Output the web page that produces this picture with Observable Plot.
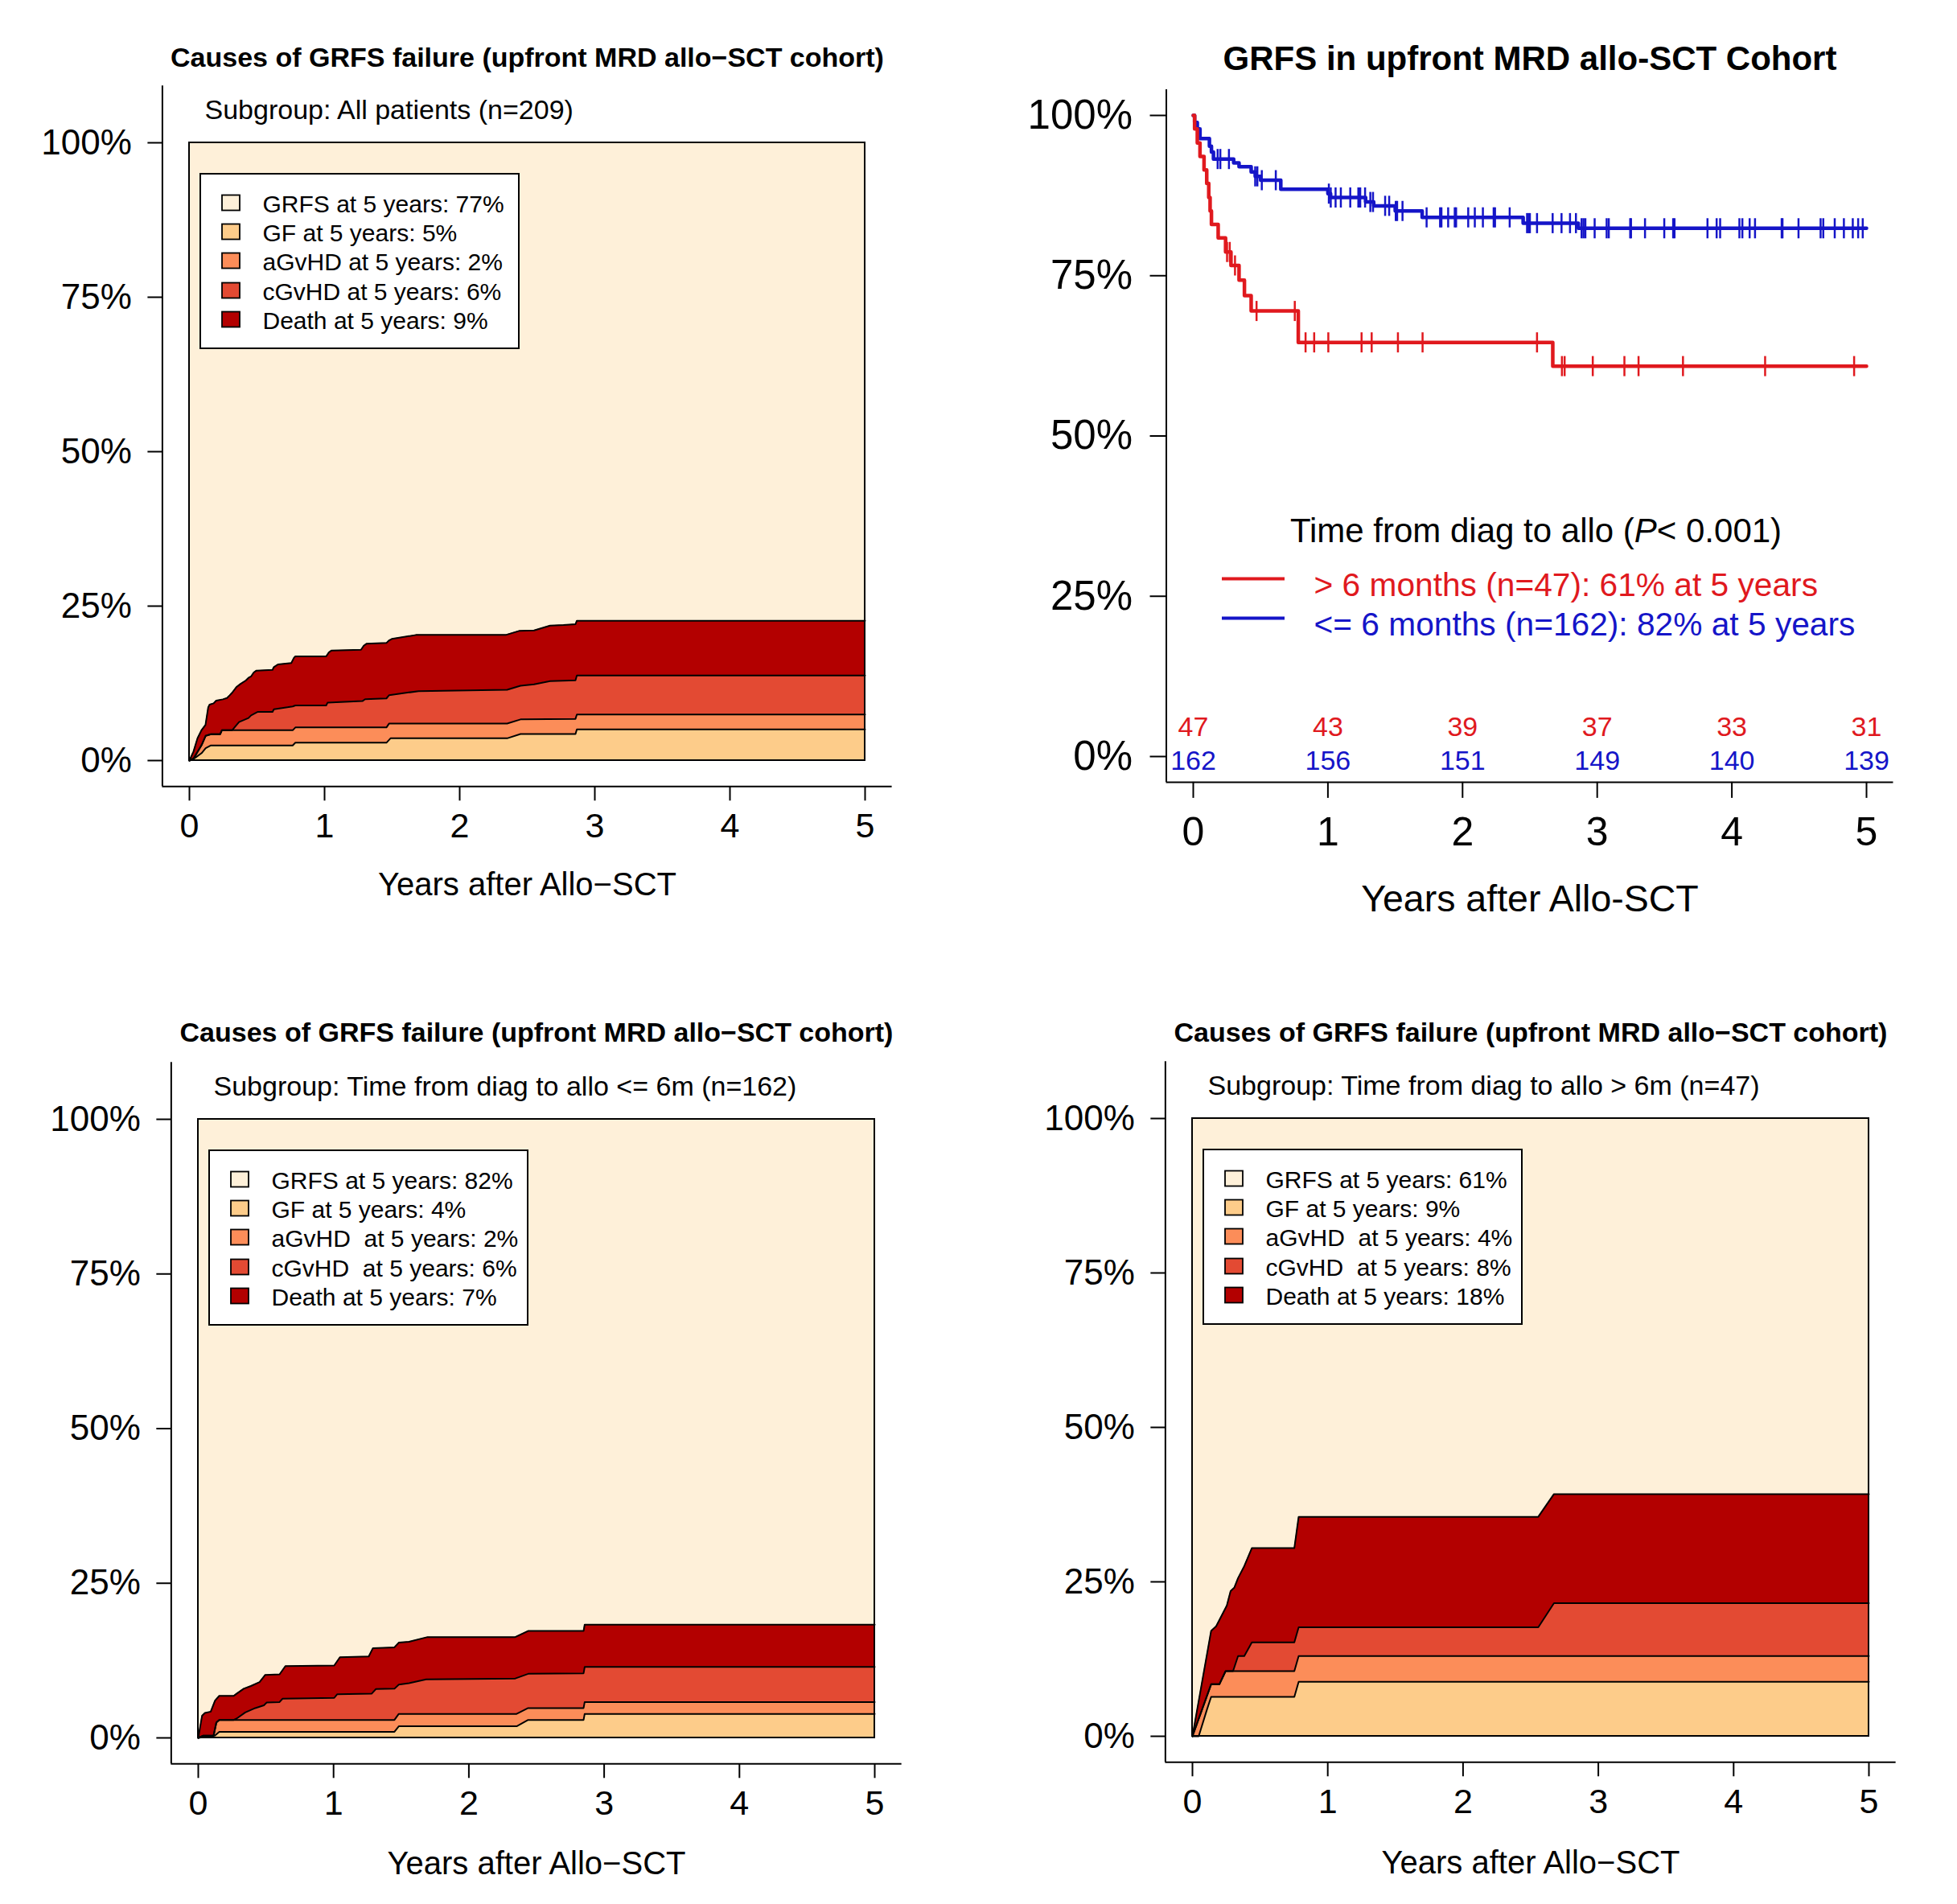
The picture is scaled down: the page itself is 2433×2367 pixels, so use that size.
<!DOCTYPE html>
<html>
<head>
<meta charset="utf-8">
<script src="https://cdn.jsdelivr.net/npm/d3@7"></script>
<script src="https://cdn.jsdelivr.net/npm/@observablehq/plot@0.6"></script>
<style>
  html, body { margin: 0; padding: 0; background: #fff; }
  #fig { position: relative; width: 2433px; height: 2367px; background: #fff; overflow: hidden; }
  #fig > svg { position: absolute; }
</style>
</head>
<body>
<div id="fig"></div>
<script>
// ---------------- DATA ----------------
const yearsMax = 5;
const xTicks = [0, 1, 2, 3, 4, 5];
const yTicks = [0, 0.25, 0.5, 0.75, 1];
const causeColors = ["#FEF0D9", "#FDCC8A", "#FC8D59", "#E34A33", "#B30000"];

// Top-left: all patients, cumulative boundaries [years, cumulative proportion]
const tlGF = [[0,0],[0.04,0.004],[0.09,0.012],[0.12,0.02],[0.159,0.0245],[0.764,0.0245],[0.784,0.0289],[1.458,0.0289],[1.488,0.036],[2.351,0.036],[2.45,0.043],[2.857,0.043],[2.867,0.0505],[5,0.0505]];
const tlAG = [[0,0],[0.03,0.003],[0.09,0.025],[0.12,0.04],[0.159,0.0427],[0.228,0.0427],[0.24,0.049],[0.764,0.049],[0.784,0.0536],[1.458,0.0536],[1.478,0.06],[2.351,0.06],[2.45,0.0666],[2.857,0.0675],[2.867,0.0745],[5,0.0745]];
const tlCG = [[0,0],[0.03,0.003],[0.09,0.025],[0.12,0.04],[0.159,0.0427],[0.228,0.0427],[0.24,0.049],[0.317,0.0492],[0.367,0.0623],[0.437,0.0688],[0.456,0.0731],[0.506,0.0788],[0.615,0.0788],[0.625,0.0831],[0.764,0.0875],[0.784,0.0892],[1.012,0.0892],[1.022,0.0936],[1.28,0.0962],[1.3,0.0993],[1.458,0.1006],[1.478,0.1059],[1.696,0.1124],[2.351,0.1146],[2.45,0.1211],[2.55,0.1233],[2.669,0.1285],[2.857,0.1298],[2.867,0.1376],[5,0.1376]];
const tlDeath = [[0,0],[0.03,0.0145],[0.06,0.0362],[0.089,0.049],[0.119,0.0577],[0.139,0.0861],[0.149,0.0904],[0.179,0.0926],[0.198,0.097],[0.248,0.0991],[0.278,0.1013],[0.298,0.1056],[0.317,0.11],[0.347,0.1187],[0.377,0.1239],[0.417,0.1296],[0.437,0.1339],[0.456,0.1361],[0.476,0.1426],[0.496,0.1456],[0.615,0.1469],[0.625,0.1513],[0.655,0.1556],[0.754,0.1578],[0.774,0.1665],[0.784,0.1686],[1.012,0.1686],[1.032,0.1751],[1.052,0.1782],[1.27,0.1794],[1.29,0.1859],[1.31,0.189],[1.458,0.1903],[1.478,0.1946],[1.498,0.1968],[1.677,0.2033],[2.341,0.2033],[2.44,0.2098],[2.55,0.2107],[2.669,0.2185],[2.768,0.2194],[2.857,0.2207],[2.867,0.2264],[5,0.2264]];
const tlLabels = ["GRFS at 5 years: 77%", "GF at 5 years: 5%", "aGvHD at 5 years: 2%", "cGvHD at 5 years: 6%", "Death at 5 years: 9%"];

// Bottom-left: <= 6 months
const blGF = [[0,0],[0.028,0.001],[0.124,0.004],[0.155,0.0098],[1.45,0.0098],[1.482,0.0188],[2.353,0.0188],[2.438,0.029],[2.848,0.029],[2.856,0.0388],[5,0.0388]];
const blAG = [[0,0],[0.037,0.0036],[0.113,0.0036],[0.134,0.025],[0.155,0.029],[1.45,0.029],[1.482,0.0388],[2.353,0.0388],[2.438,0.0482],[2.848,0.0482],[2.856,0.058],[5,0.058]];
const blCG = [[0,0],[0.037,0.0036],[0.113,0.0036],[0.134,0.025],[0.155,0.029],[0.262,0.029],[0.283,0.0312],[0.347,0.0411],[0.421,0.0482],[0.485,0.0527],[0.506,0.0571],[0.601,0.058],[0.623,0.0634],[1.005,0.0647],[1.026,0.0705],[1.281,0.0714],[1.313,0.079],[1.45,0.0795],[1.482,0.0862],[1.557,0.0884],[1.684,0.0946],[2.343,0.096],[2.438,0.1036],[2.848,0.1045],[2.856,0.1147],[5,0.1147]];
const blDeath = [[0,0],[0.028,0.0357],[0.049,0.0402],[0.092,0.0424],[0.124,0.0603],[0.155,0.0679],[0.262,0.0679],[0.283,0.0714],[0.336,0.0795],[0.389,0.0839],[0.453,0.0902],[0.495,0.1018],[0.601,0.1027],[0.644,0.1161],[1.005,0.117],[1.047,0.1304],[1.26,0.1317],[1.291,0.1451],[1.45,0.1464],[1.482,0.154],[1.557,0.1554],[1.695,0.163],[2.343,0.163],[2.438,0.1728],[2.848,0.1728],[2.856,0.183],[5,0.183]];
const blLabels = ["GRFS at 5 years: 82%", "GF at 5 years: 4%", "aGvHD\u00a0 at 5 years: 2%", "cGvHD\u00a0 at 5 years: 6%", "Death at 5 years: 7%"];

// Bottom-right: > 6 months
const brGF = [[0,0],[0.046,0],[0.106,0.0425],[0.138,0.0638],[0.753,0.0638],[0.785,0.0881],[5,0.0881]];
const brAG = [[0,0],[0.138,0.0842],[0.199,0.0842],[0.245,0.1055],[0.753,0.1055],[0.785,0.1299],[5,0.1299]];
const brCG = [[0,0],[0.138,0.0842],[0.199,0.0842],[0.245,0.1055],[0.3,0.1055],[0.337,0.1299],[0.383,0.1299],[0.439,0.152],[0.753,0.152],[0.785,0.1765],[2.556,0.1765],[2.672,0.2154],[5,0.2154]];
const brDeath = [[0,0],[0.138,0.1706],[0.175,0.178],[0.222,0.198],[0.254,0.2115],[0.282,0.235],[0.309,0.2405],[0.337,0.256],[0.383,0.2755],[0.439,0.3046],[0.753,0.3046],[0.785,0.3553],[2.556,0.3553],[2.672,0.392],[5,0.392]];
const brLabels = ["GRFS at 5 years: 61%", "GF at 5 years: 9%", "aGvHD\u00a0 at 5 years: 4%", "cGvHD\u00a0 at 5 years: 8%", "Death at 5 years: 18%"];

// Top-right: Kaplan-Meier GRFS
const redTimes = [0, 0.01, 0.03, 0.05, 0.08, 0.10, 0.115, 0.125, 0.135, 0.185, 0.24, 0.28, 0.34, 0.38, 0.43, 0.78, 2.67];
const redSurv  = [1, 0.979, 0.957, 0.936, 0.915, 0.894, 0.872, 0.851, 0.830, 0.809, 0.787, 0.766, 0.743, 0.719, 0.695, 0.646, 0.609];
const blueTimes = [0, 0.01, 0.03, 0.05, 0.12, 0.135, 0.15, 0.30, 0.34, 0.43, 0.46, 0.50, 0.65, 1.00, 1.02, 1.28, 1.34, 1.50, 1.70, 2.45, 2.86];
const blueSurv  = [1, 0.989, 0.979, 0.964, 0.952, 0.943, 0.932, 0.926, 0.920, 0.912, 0.905, 0.899, 0.885, 0.878, 0.872, 0.865, 0.859, 0.851, 0.841, 0.832, 0.824];
const redCensor = [0.251, 0.271, 0.310, 0.470, 0.754, 0.834, 0.898, 1.003, 1.250, 1.325, 1.520, 1.703, 2.553, 2.738, 2.758, 2.967, 3.202, 3.307, 3.637, 4.247, 4.908];
const blueCensor = [0.181, 0.201, 0.265, 0.460, 0.476, 0.509, 0.613, 1.007, 1.021, 1.057, 1.096, 1.166, 1.226, 1.240, 1.276, 1.315, 1.335, 1.425, 1.455, 1.504, 1.514, 1.554, 1.733, 1.833, 1.843, 1.893, 1.942, 1.952, 2.042, 2.091, 2.151, 2.231, 2.241, 2.350, 2.479, 2.490, 2.500, 2.553, 2.669, 2.735, 2.798, 2.842, 2.884, 2.898, 2.912, 2.981, 3.070, 3.086, 3.245, 3.251, 3.355, 3.498, 3.564, 3.574, 3.819, 3.887, 3.913, 4.056, 4.078, 4.132, 4.172, 4.370, 4.376, 4.495, 4.659, 4.679, 4.764, 4.832, 4.898, 4.938, 4.972];
const riskTimes = [0, 1, 2, 3, 4, 5];
const riskRed = [47, 43, 39, 37, 33, 31];
const riskBlue = [162, 156, 151, 149, 140, 139];
const kmGroups = ["> 6 months (n=47): 61% at 5 years", "<= 6 months (n=162): 82% at 5 years"];
const kmLegendTitle = ["Time from diag to allo (", "P", "< 0.001)"];

// ---------------- RENDER ----------------
const FONT = "'Liberation Sans', Arial, Helvetica, sans-serif";
const RED = "#E0191E", BLUE = "#1515C8";
const fig = document.getElementById("fig");
const xDom = [-0.2, 5.2];

function margins(g, yDom) {
  return {
    marginLeft: g.x0 + xDom[0] * g.k,
    marginRight: g.W - (g.x0 + xDom[1] * g.k),
    marginTop: g.y0 - yDom[1] * g.s,
    marginBottom: g.H - (g.y0 - yDom[0] * g.s)
  };
}
function place(svg, g) {
  svg.style.left = g.qx + "px";
  svg.style.top = g.qy + "px";
  fig.appendChild(svg);
}
const pct = d => `${Math.round(d * 100)}%`;

function stackPanel(g, series, labels, subtitle) {
  const yDom = [-0.042, 1.092];
  const dx = px => px / g.k, dy = px => px / g.s;
  const box = [{x1: dx(14), x2: dx(410), y1: 1 - dy(256), y2: 1 - dy(39)}];
  const rowOff = [75, 111, 147, 184, 220];
  const rows = labels.map((label, i) => ({
    label, color: causeColors[i],
    sx1: dx(41), sx2: dx(63), sy1: 1 - dy(rowOff[i] + 9.5), sy2: 1 - dy(rowOff[i] - 9.5),
    tx: dx(91), ty: 1 - dy(rowOff[i] + 1.5)
  }));
  const region = [{a: 0, b: yearsMax, c: 0, d: 1}];
  const marks = [
    Plot.rect(region, {x1: "a", x2: "b", y1: "c", y2: "d", fill: causeColors[0]}),
  ];
  for (let i = series.length - 1; i >= 0; i--) {
    marks.push(Plot.areaY(series[i], {x: d => d[0], y1: d => 0, y2: d => d[1], fill: causeColors[i + 1], curve: "linear"}));
  }
  for (let i = 0; i < series.length; i++) {
    marks.push(Plot.line(series[i], {x: d => d[0], y: d => d[1], stroke: "#000", strokeWidth: 2, curve: "linear"}));
  }
  marks.push(
    Plot.rect(region, {x1: "a", x2: "b", y1: "c", y2: "d", fill: "none", stroke: "#000", strokeWidth: 2}),
    Plot.rect(box, {x1: "x1", x2: "x2", y1: "y1", y2: "y2", fill: "#fff", stroke: "#000", strokeWidth: 2}),
    Plot.rect(rows, {x1: "sx1", x2: "sx2", y1: "sy1", y2: "sy2", fill: "color", stroke: "#000", strokeWidth: 1.8}),
    Plot.text(rows, {x: "tx", y: "ty", text: "label", textAnchor: "start", lineAnchor: "middle", fontSize: 30, fill: "#000"}),
    Plot.text([subtitle], {x: d => dx(19), y: d => 1 + dy(40.6), text: d => d, textAnchor: "start", lineAnchor: "middle", fontSize: 34, fill: "#000"}),
    Plot.text(["Causes of GRFS failure (upfront MRD allo\u2212SCT cohort)"], {frameAnchor: "top", dy: g.titleDy, text: d => d, lineAnchor: "middle", fontSize: 34, fontWeight: "bold", fill: "#000"}),
    Plot.text(["Years after Allo\u2212SCT"], {frameAnchor: "bottom", dy: g.xtitleDy, text: d => d, lineAnchor: "middle", fontSize: 40, fill: "#000"}),
    Plot.ruleY([yDom[0]], {x1: xDom[0], x2: xDom[1], stroke: "#000", strokeWidth: 2}),
    Plot.ruleX([xDom[0]], {y1: yDom[0], y2: yDom[1], stroke: "#000", strokeWidth: 2}),
    Plot.axisX({ticks: xTicks, tickFormat: d => `${d}`, tickSize: 18, tickPadding: 15, fontSize: 43, strokeWidth: 2, label: null}),
    Plot.axisY({ticks: yTicks, tickFormat: pct, tickSize: 18, tickPadding: 20, fontSize: 44, strokeWidth: 2, label: null})
  );
  const svg = Plot.plot({
    width: g.W, height: g.H, ...margins(g, yDom),
    x: {domain: xDom}, y: {domain: yDom},
    style: {background: "transparent", fontFamily: FONT, color: "#000", overflow: "visible"},
    marks
  });
  place(svg, g);
}

function survAt(times, surv, t) {
  let v = surv[0];
  for (let i = 0; i < times.length; i++) if (times[i] <= t) v = surv[i];
  return v;
}

function kmPanel(g) {
  const yDom = [-0.04, 1.04];
  const dx = px => px / g.k, dy = px => px / g.s;
  const redData = redTimes.map((t, i) => ({t, s: redSurv[i]})).concat([{t: yearsMax, s: redSurv[redSurv.length - 1]}]);
  const blueData = blueTimes.map((t, i) => ({t, s: blueSurv[i]})).concat([{t: yearsMax, s: blueSurv[blueSurv.length - 1]}]);
  const redTicks = redCensor.map(t => ({t, s: survAt(redTimes, redSurv, t)}));
  const blueTicks = blueCensor.map(t => ({t, s: survAt(blueTimes, blueSurv, t)}));
  const vline = {draw(context, size) { const r = Math.sqrt(size / Math.PI); context.moveTo(0, -r); context.lineTo(0, r); }};
  const legendRows = [
    {label: kmGroups[0], color: RED, ly: dy(221), ty: dy(213)},
    {label: kmGroups[1], color: BLUE, ly: dy(172), ty: dy(163.5)}
  ];
  const risk = riskTimes.map((t, i) => ({t, red: riskRed[i], blue: riskBlue[i]}));
  const svg = Plot.plot({
    width: g.W, height: g.H, ...margins(g, yDom),
    x: {domain: xDom}, y: {domain: yDom},
    style: {background: "transparent", fontFamily: FONT, color: "#000", overflow: "visible"},
    marks: [
      Plot.line(blueData, {x: "t", y: "s", stroke: BLUE, strokeWidth: 4.5, curve: "step-after"}),
      Plot.line(redData, {x: "t", y: "s", stroke: RED, strokeWidth: 4.5, curve: "step-after"}),
      Plot.dot(blueTicks, {x: "t", y: "s", symbol: vline, r: 12.5, stroke: BLUE, strokeWidth: 2.5, fill: "none"}),
      Plot.dot(redTicks, {x: "t", y: "s", symbol: vline, r: 12.5, stroke: RED, strokeWidth: 2.5, fill: "none"}),
      Plot.text([kmLegendTitle.join("")], {x: d => dx(426), y: d => dy(280), text: d => d, lineAnchor: "middle", fontSize: 42, fill: "#000"}),
      Plot.ruleY(legendRows, {y: "ly", x1: d => dx(36), x2: d => dx(114), stroke: "color", strokeWidth: 4}),
      Plot.text(legendRows, {x: d => dx(150), y: "ty", text: "label", fill: "color", textAnchor: "start", lineAnchor: "middle", fontSize: 40.7}),
      Plot.text(risk, {x: "t", y: d => dy(36), text: "red", fill: RED, lineAnchor: "middle", fontSize: 34}),
      Plot.text(risk, {x: "t", y: d => -dy(6), text: "blue", fill: BLUE, lineAnchor: "middle", fontSize: 34}),
      Plot.text(["GRFS in upfront MRD allo-SCT Cohort"], {frameAnchor: "top", dy: g.titleDy, text: d => d, lineAnchor: "middle", fontSize: 42, fontWeight: "bold", fill: "#000"}),
      Plot.text(["Years after Allo-SCT"], {frameAnchor: "bottom", dy: g.xtitleDy, text: d => d, lineAnchor: "middle", fontSize: 46.5, fill: "#000"}),
      Plot.ruleY([yDom[0]], {x1: xDom[0], x2: xDom[1], stroke: "#000", strokeWidth: 2}),
      Plot.ruleX([xDom[0]], {y1: yDom[0], y2: yDom[1], stroke: "#000", strokeWidth: 2}),
      Plot.axisX({ticks: xTicks, tickFormat: d => `${d}`, tickSize: 20, tickPadding: 23, fontSize: 50, strokeWidth: 2, label: null}),
      Plot.axisY({ticks: yTicks, tickFormat: pct, tickSize: 20, tickPadding: 22, fontSize: 51, strokeWidth: 2, label: null})
    ]
  });
  // italic P in the legend title
  const full = kmLegendTitle.join("");
  svg.querySelectorAll("text").forEach(el => {
    if (el.textContent === full) {
      el.textContent = "";
      kmLegendTitle.forEach((part, i) => {
        const ts = document.createElementNS("http://www.w3.org/2000/svg", "tspan");
        ts.textContent = part;
        if (i === 1) ts.setAttribute("font-style", "italic");
        el.appendChild(ts);
      });
    }
  });
  place(svg, g);
}

const gTL = {qx: 0, qy: 0, W: 1216, H: 1190, x0: 235, k: 168, y0: 945, s: 768, titleDy: -34.4, xtitleDy: 122.7};
const gTR = {qx: 1216, qy: 0, W: 1217, H: 1190, x0: 267, k: 167.4, y0: 940, s: 797, titleDy: -37.8, xtitleDy: 146};
const gBL = {qx: 0, qy: 1190, W: 1216, H: 1177, x0: 246, k: 168.2, y0: 970, s: 769, titleDy: -36.7, xtitleDy: 124.8};
const gBR = {qx: 1216, qy: 1190, W: 1217, H: 1177, x0: 266, k: 168.2, y0: 968, s: 768, titleDy: -35.7, xtitleDy: 125.4};

stackPanel(gTL, [tlGF, tlAG, tlCG, tlDeath], tlLabels, "Subgroup: All patients (n=209)");
kmPanel(gTR);
stackPanel(gBL, [blGF, blAG, blCG, blDeath], blLabels, "Subgroup: Time from diag to allo <= 6m (n=162)");
stackPanel(gBR, [brGF, brAG, brCG, brDeath], brLabels, "Subgroup: Time from diag to allo > 6m (n=47)");
</script>
</body>
</html>
